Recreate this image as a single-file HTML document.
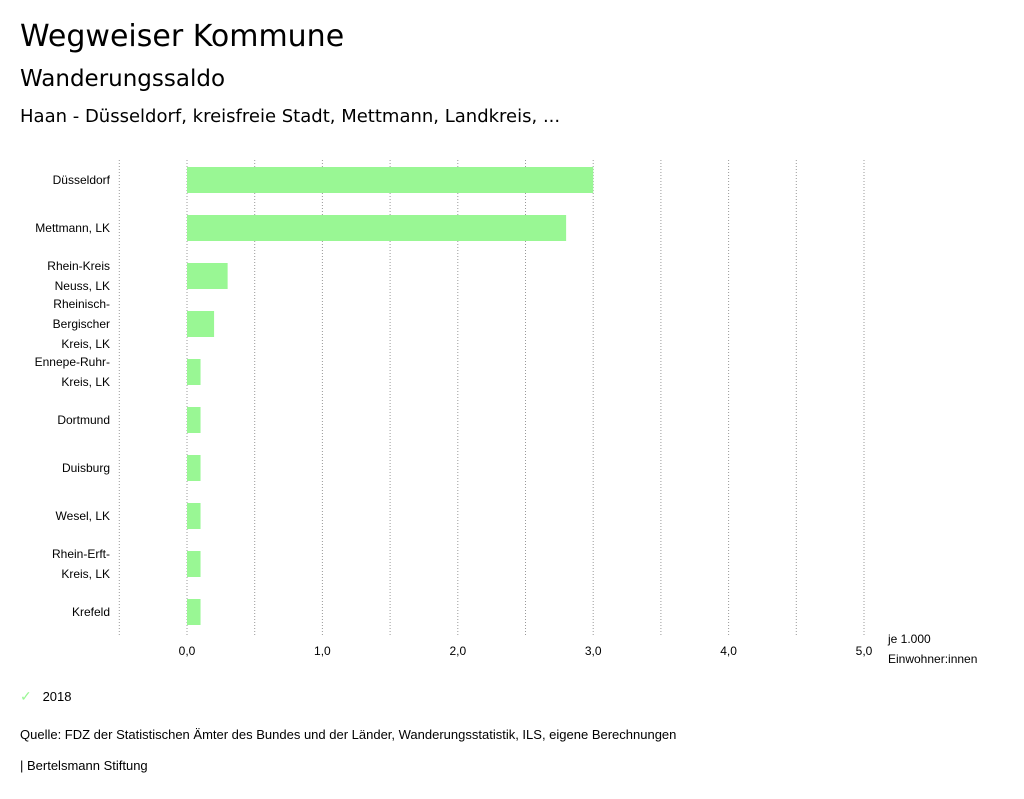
<!DOCTYPE html>
<html><head><meta charset="utf-8"><style>
body{margin:0;background:#fff;font-family:"Liberation Sans",sans-serif;color:#000;}
#wrap{position:relative;width:1024px;height:799px;overflow:hidden;}
.t{position:absolute;white-space:nowrap;}
.dj{font-family:"DejaVu Sans","Liberation Sans",sans-serif;}
</style></head><body><div id="wrap">
<div class="t dj" style="left:20px;top:19px;font-size:30px;">Wegweiser Kommune</div>
<div class="t dj" style="left:20px;top:66px;font-size:23px;">Wanderungssaldo</div>
<div class="t dj" style="left:20px;top:106px;font-size:18px;">Haan - Düsseldorf, kreisfreie Stadt, Mettmann, Landkreis, ...</div>
<svg id="chart" width="1024" height="799" style="position:absolute;left:0;top:0"></svg>
<div class="t" style="left:20px;top:688px;font-size:13px;"><span style="color:#99f794;font-size:14px;">✓</span>&nbsp;&nbsp;&nbsp;2018</div>
<div class="t" style="left:20px;top:727px;font-size:13px;">Quelle: FDZ der Statistischen Ämter des Bundes und der Länder, Wanderungsstatistik, ILS, eigene Berechnungen</div>
<div class="t" style="left:20px;top:758px;font-size:13px;">| Bertelsmann Stiftung</div>
</div>
<script>
const categories=[["Düsseldorf"],["Mettmann, LK"],["Rhein-Kreis","Neuss, LK"],["Rheinisch-","Bergischer","Kreis, LK"],["Ennepe-Ruhr-","Kreis, LK"],["Dortmund"],["Duisburg"],["Wesel, LK"],["Rhein-Erft-","Kreis, LK"],["Krefeld"]];
const values=[3.0,2.8,0.3,0.2,0.1,0.1,0.1,0.1,0.1,0.1];
const ticks=[0,1,2,3,4,5];
const tickLabels=["0,0","1,0","2,0","3,0","4,0","5,0"];
const NS="http://www.w3.org/2000/svg";
const svg=document.getElementById('chart');
const x=v=>187+v*135.4;
const top0=156,band=48;
const y=i=>top0+i*band;
function el(t,a){const e=document.createElementNS(NS,t);for(const k in a)e.setAttribute(k,a[k]);svg.appendChild(e);return e;}
for(let g=-0.5;g<=5.01;g+=0.5){
 const l=el('line',{x1:x(g),x2:x(g),y1:160,y2:635,stroke:'#999','stroke-dasharray':'1,2','stroke-width':1});
 
 
}
ticks.forEach((t,i)=>{
 const tx=el('text',{x:x(t),y:655,'font-size':12,'text-anchor':'middle','font-family':'Liberation Sans, sans-serif'});
 tx.textContent=tickLabels[i];
 
 
});
const u1=el('text',{x:888,y:643,'font-size':12,'font-family':'Liberation Sans, sans-serif'});u1.textContent='je 1.000';


const u2=el('text',{x:888,y:663,'font-size':12,'font-family':'Liberation Sans, sans-serif'});u2.textContent='Einwohner:innen';


values.forEach((v,i)=>{
 const c=y(i)+band/2;
 const r=el('rect',{x:x(0),y:c-13,width:x(v)-x(0),height:26,fill:'#99f794'});
 
 
 const lines=categories[i];
 lines.forEach((ln,j)=>{
  const ty=c+4+(j-(lines.length-1)/2)*20;
  const t=el('text',{x:110,y:ty,'font-size':12,'text-anchor':'end','font-family':'Liberation Sans, sans-serif'});
  t.textContent=ln;
  
  
 });
});
</script>
</body></html>
